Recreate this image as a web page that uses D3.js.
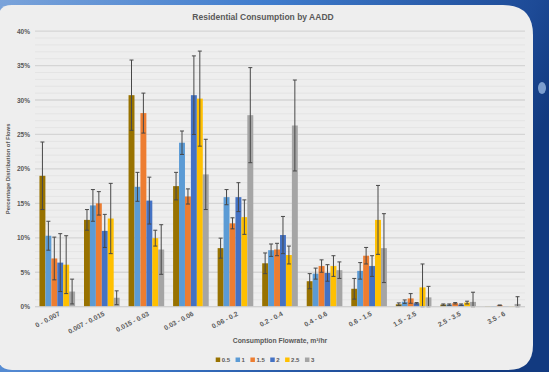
<!DOCTYPE html>
<html>
<head>
<meta charset="utf-8">
<script src="https://cdn.jsdelivr.net/npm/d3@7"></script>
<style>
  html, body { margin: 0; padding: 0; background: #2a5cab; }
  svg { display: block; }
  text { font-family: "Liberation Sans", Arial, sans-serif; fill: #595959; font-weight: bold; }
</style>
</head>
<body>
<svg id="chart" width="549" height="372"></svg>
<script>
// flowrate bins (m3/hr)
const categories = ["0 - 0.007", "0.007 - 0.015", "0.015 - 0.03", "0.03 - 0.06", "0.06 - 0.2",
  "0.2 - 0.4", "0.4 - 0.6", "0.6 - 1.5", "1.5 - 2.5", "2.5 - 3.5", "3.5 - 6"];

// AADD series
const seriesNames = ["0.5", "1", "1.5", "2", "2.5", "3"];

// percentage of flow per bin, one array per series
const aadd05 = [19.0, 12.6, 30.7, 17.5, 8.5, 6.3, 3.7, 2.6, 0.35, 0.3, 0.05];
const aadd1 = [10.3, 14.7, 17.4, 23.8, 15.9, 8.2, 4.8, 5.2, 0.73, 0.3, 0.1];
const aadd15 = [7.0, 15.0, 28.1, 16.0, 12.1, 8.3, 5.9, 7.4, 1.2, 0.5, 0.2];
const aadd2 = [6.4, 11.0, 15.4, 30.7, 15.9, 10.4, 4.9, 5.9, 0.5, 0.3, 0.05];
const aadd25 = [6.1, 12.8, 9.95, 30.2, 13.0, 7.5, 5.9, 12.6, 2.8, 0.6, 0.05];
const aadd3 = [2.2, 1.3, 8.3, 19.2, 27.8, 26.3, 5.3, 8.5, 1.35, 0.7, 0.4];

// error bar half-lengths (+/-)
const err05 = [4.9, 1.5, 5.1, 2.0, 1.45, 1.5, 1.1, 1.5, 0.2, 0.1, 0];
const err1 = [2.1, 2.3, 2.1, 1.7, 1.1, 0.9, 0.8, 1.2, 0.25, 0.1, 0];
const err15 = [3.1, 1.7, 2.9, 1.1, 0.8, 0.9, 0.9, 1.2, 0.7, 0.1, 0.05];
const err2 = [4.2, 2.4, 3.4, 5.7, 2.1, 2.7, 1.2, 1.5, 0.1, 0.1, 0];
const err25 = [4.2, 5.1, 1.15, 6.9, 2.5, 1.3, 1.5, 5.0, 3.4, 0.2, 0];
const err3 = [1.8, 1.0, 3.6, 5.1, 6.9, 6.6, 1.2, 5.0, 1.6, 1.4, 1.05];

const yTicks = [0, 5, 10, 15, 20, 25, 30, 35, 40];

const colors = ["#987200", "#5b9bd5", "#ed7d31", "#4472c4", "#ffc000", "#a5a5a5"];

const values = [aadd05, aadd1, aadd15, aadd2, aadd25, aadd3];
const errors = [err05, err1, err15, err2, err25, err3];

const svg = d3.select("#chart");

// --- slide background ---
const defs = svg.append("defs");
const bg = defs.append("linearGradient").attr("id", "bg").attr("x1", 0).attr("y1", 0).attr("x2", 1).attr("y2", 0.3);
bg.append("stop").attr("offset", "0%").attr("stop-color", "#7aa3da");
bg.append("stop").attr("offset", "45%").attr("stop-color", "#3f7ccd");
bg.append("stop").attr("offset", "90%").attr("stop-color", "#1d4a96");
bg.append("stop").attr("offset", "100%").attr("stop-color", "#123a80");
svg.append("rect").attr("width", 549).attr("height", 372).attr("fill", "url(#bg)");
svg.append("ellipse").attr("cx", 542).attr("cy", 88).attr("rx", 4).attr("ry", 6)
  .attr("fill", "#a8c8ee").attr("opacity", 0.7);

// panel with rounded corners
const panel = d3.path();
panel.moveTo(-2, 19);
panel.quadraticCurveTo(-2, 5, 12, 5);
panel.lineTo(503, 5);
panel.quadraticCurveTo(533, 5, 533, 35);
panel.lineTo(533, 345);
panel.quadraticCurveTo(533, 370, 508, 370);
panel.lineTo(12, 370);
panel.quadraticCurveTo(-2, 370, -2, 356);
panel.closePath();
svg.append("path").attr("d", panel.toString()).attr("fill", "#eeeeee");

// --- scales ---
const x0 = d3.scaleBand().domain(categories).range([35, 525]).paddingInner(0.2).paddingOuter(0.1);
const x1 = d3.scaleBand().domain(seriesNames).range([0, x0.bandwidth()]);
const y = d3.scaleLinear().domain([0, 40]).range([306.7, 31.1]);

// minor grid (1%)
svg.append("g").selectAll("line").data(d3.range(0, 41, 1).filter(v => v % 5 !== 0)).join("line")
  .attr("x1", 35).attr("x2", 525)
  .attr("y1", d => y(d)).attr("y2", d => y(d))
  .attr("stroke", "#e4e4e4").attr("stroke-width", 1);

// major grid
svg.append("g").selectAll("line").data(yTicks).join("line")
  .attr("x1", 35).attr("x2", 525)
  .attr("y1", d => y(d)).attr("y2", d => y(d))
  .attr("stroke", "#d5d5d5").attr("stroke-width", 1.3);

// y axis labels
const yAxis = svg.append("g").attr("transform", "translate(30,0)")
  .call(d3.axisLeft(y).tickValues(yTicks).tickFormat(d => d + "%").tickSize(0).tickPadding(0));
yAxis.select(".domain").remove();
yAxis.selectAll("text").style("font-size", "6.5px").attr("fill", "#595959");

// --- bars ---
const groups = svg.append("g").selectAll("g").data(categories).join("g")
  .attr("transform", d => `translate(${x0(d)},0)`);

groups.selectAll("rect")
  .data((c, i) => seriesNames.map((s, k) => ({ s: s, v: values[k][i], e: errors[k][i], k: k })))
  .join("rect")
  .attr("x", d => x1(d.s))
  .attr("width", x1.bandwidth())
  .attr("y", d => y(d.v))
  .attr("height", d => y(0) - y(d.v))
  .attr("fill", d => colors[d.k]);

// error bars
groups.selectAll("path.err")
  .data((c, i) => seriesNames.map((s, k) => ({ s: s, v: values[k][i], e: errors[k][i] })).filter(d => d.e > 0))
  .join("path")
  .attr("class", "err")
  .attr("d", d => {
    const cx = x1(d.s) + x1.bandwidth() / 2;
    const top = y(d.v + d.e), bot = y(Math.max(0, d.v - d.e));
    return `M${cx},${top}V${bot}M${cx - 2},${top}H${cx + 2}M${cx - 2},${bot}H${cx + 2}`;
  })
  .attr("stroke", "#484848").attr("stroke-width", 1).attr("fill", "none");

// baseline
svg.append("line").attr("x1", 35).attr("x2", 525).attr("y1", y(0)).attr("y2", y(0))
  .attr("stroke", "#d0d0d0").attr("stroke-width", 1);

// x labels, rotated
svg.append("g").selectAll("text").data(categories).join("text")
  .attr("transform", d => `translate(${x0(d) + x0.bandwidth() / 2 + 1},311) rotate(-28)`)
  .attr("text-anchor", "end")
  .attr("dy", "0.7em")
  .style("font-size", "6.8px")
  .text(d => d);

// titles
svg.append("text").attr("x", 263).attr("y", 20).attr("text-anchor", "middle")
  .style("font-size", "8.5px").text("Residential Consumption by AADD");

svg.append("text").attr("x", 280).attr("y", 343).attr("text-anchor", "middle")
  .style("font-size", "6.8px").text("Consumption Flowrate, m³/hr");

svg.append("text").attr("transform", `translate(10,${(y(0) + y(40)) / 2}) rotate(-90)`)
  .attr("text-anchor", "middle")
  .style("font-size", "5.8px").text("Percentage Distribution of Flows");

// legend
const legend = svg.append("g");
let lx = 0;
seriesNames.forEach((s, k) => {
  const item = legend.append("g").attr("transform", `translate(${lx},0)`);
  item.append("rect").attr("x", 0).attr("y", -2.5).attr("width", 4.5).attr("height", 4.5).attr("fill", colors[k]);
  const t = item.append("text").attr("x", 6).attr("y", 2).style("font-size", "6px").text(s);
  lx += 6 + t.node().getComputedTextLength() + 5.5;
});
legend.attr("transform", `translate(${265 - (lx - 5.5) / 2},360)`);
</script>
</body>
</html>
